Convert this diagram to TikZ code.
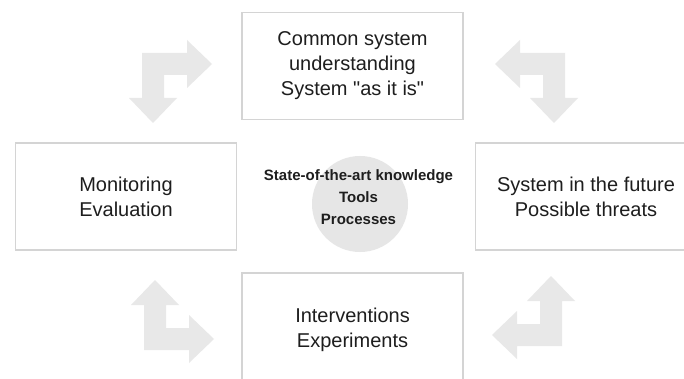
\documentclass[tikz,border=0pt]{standalone}
\usepackage{fontspec}
\setmainfont{Liberation Sans}
\usepackage{tikz}

\definecolor{boxgray}{RGB}{212,212,212}
\definecolor{arrowgray}{RGB}{232,232,232}
\definecolor{discgray}{RGB}{230,230,230}
\definecolor{inkgray}{RGB}{30,30,30}

\tikzset{
    stagebox/.style={draw=boxgray, line width=1.4pt, fill=white, inner sep=0pt,
        minimum width=221pt, minimum height=107pt, align=center, text=inkgray,
        font=\fontsize{20}{25}\selectfont},
    corebox/.style={align=center, text=inkgray, inner sep=0pt,
        font=\fontsize{15}{22}\selectfont\bfseries},
    bentarrow/.pic={
        \fill[arrowgray] (0,0) -- (45,0) -- (45,13) -- (70,-11) -- (45,-35)
            -- (45,-22) -- (22,-22) -- (22,-45) -- (35,-45) -- (11,-70)
            -- (-13,-45) -- (0,-45) -- cycle;
    }
}

\begin{document}
\begin{tikzpicture}[x=1pt, y=1pt]
    \clip (0,0) rectangle (684,-379);
    \fill[white] (0,0) rectangle (684,-379);

    \fill[discgray] (360,-204) circle (48);

    \pic at (142,-53) {bentarrow};
    \pic[xscale=-1] at (565,-53) {bentarrow};
    \pic[yscale=-1] at (144,-350) {bentarrow};
    \pic[xscale=-1, yscale=-1] at (562,-346) {bentarrow};

    \node[stagebox] (common) at (352.5,-66) {Common system\\understanding\\System \textquotedbl as it is\textquotedbl};
    \node[stagebox] (monitor) at (126,-196.5) {Monitoring\\Evaluation};
    \node[stagebox] (future) at (586,-196.5) {System in the future\\Possible threats};
    \node[stagebox, minimum height=114pt] (interv) at (352.5,-330) {Interventions\\Experiments};

    \node[corebox] (core) at (358.5,-197) {State-of-the-art knowledge\\Tools\\Processes};
\end{tikzpicture}
\end{document}
